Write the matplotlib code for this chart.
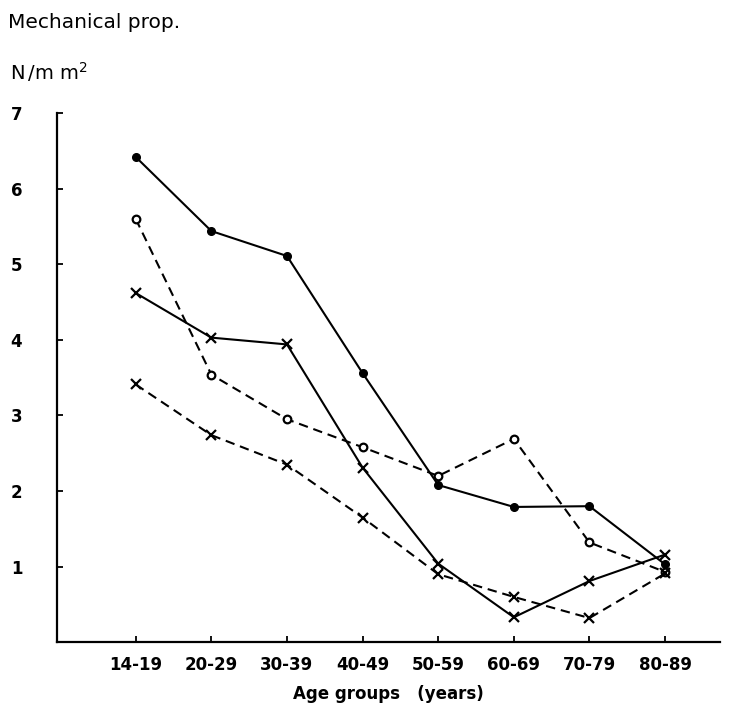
import numpy as np
import matplotlib
matplotlib.use("Agg")
import matplotlib.pyplot as plt

age_groups = ["14-19", "20-29", "30-39", "40-49", "50-59", "60-69", "70-79", "80-89"]
# four series (N/mm2)
solid_dots = [6.42, 5.44, 5.11, 3.56, 2.08, 1.79, 1.80, 1.03]
dashed_circles = [5.60, 3.54, 2.95, 2.58, 2.20, 2.69, 1.32, 0.93]
solid_crosses = [4.62, 4.03, 3.94, 2.31, 1.04, 0.33, 0.81, 1.16]
dashed_crosses = [3.41, 2.74, 2.35, 1.65, 0.90, 0.60, 0.32, 0.91]
yticks = [1, 2, 3, 4, 5, 6, 7]

x = np.arange(len(age_groups))
fig = plt.figure(figsize=(7.32, 7.16), dpi=100)
ax = fig.add_axes([0.078, 0.103, 0.906, 0.739])

dash = (0, (4.5, 2.8))
ax.plot(x, solid_dots, color="black", lw=1.5, marker="o", ms=5.5)
ax.plot(x, dashed_circles, color="black", lw=1.5, ls=dash, marker="o", ms=5.5,
        mfc="white", mew=1.6)
ax.plot(x, solid_crosses, color="black", lw=1.5, marker="x", ms=7, mew=1.6)
ax.plot(x, dashed_crosses, color="black", lw=1.5, ls=dash, marker="x", ms=7, mew=1.6)

ax.set_xlim(-1.04, 7.73)
ax.set_ylim(0, 7)
ax.spines["top"].set_visible(False)
ax.spines["right"].set_visible(False)
ax.spines["left"].set_linewidth(1.6)
ax.spines["bottom"].set_linewidth(1.6)

ax.set_xticks(x)
ax.set_xticklabels(age_groups, fontsize=12, fontweight="bold")
ax.set_yticks(yticks)
ax.set_yticklabels([str(v) for v in yticks], fontsize=12, fontweight="bold")
ax.tick_params(axis="both", direction="in", length=4, width=1.3)
ax.tick_params(axis="y", pad=25)
ax.tick_params(axis="x", pad=10)
ax.set_xlabel("Age groups   (years)", fontsize=12, fontweight="bold", labelpad=8)

fig.text(0.011, 0.969, "Mechanical prop.", fontsize=14.5, va="center", ha="left")
fig.text(0.014, 0.900, r"N$\,/$m m$^{2}$", fontsize=14, va="center", ha="left")

fig.savefig("out.png", dpi=100)
